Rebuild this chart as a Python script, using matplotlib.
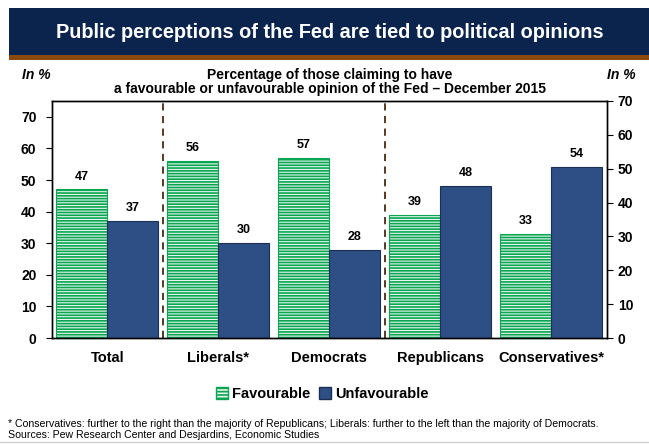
import matplotlib.pyplot as plt
import numpy as np
from matplotlib.patches import Rectangle, Patch

plt.rcParams['font.family'] = ['Liberation Sans', 'DejaVu Sans']
plt.rcParams['hatch.linewidth'] = 1.2

# données
categories = ["Total", "Liberals*", "Democrats", "Republicans", "Conservatives*"]
favourable = [47, 56, 57, 39, 33]
unfavourable = [37, 30, 28, 48, 54]
yticks = [0, 10, 20, 30, 40, 50, 60, 70]

green = "#0aa552"
blue = "#2d4f85"
navy = "#0b244d"
brown = "#8a4a0e"

fig = plt.figure(figsize=(6.49, 4.44), dpi=100)

# bandeau du titre
fig.patches.append(Rectangle((9 / 649, 1 - 55 / 444), 1, 47 / 444, transform=fig.transFigure,
                             facecolor=navy, edgecolor="none"))
fig.patches.append(Rectangle((9 / 649, 1 - 60 / 444), 1, 5 / 444, transform=fig.transFigure,
                             facecolor=brown, edgecolor="none"))
fig.text(0.508, 1 - 33 / 444, "Public perceptions of the Fed are tied to political opinions",
         color="white", fontsize=14.3, fontweight="bold", ha="center", va="center")

fig.text(0.508, 1 - 75 / 444, "Percentage of those claiming to have", fontsize=10,
         fontweight="bold", ha="center", va="center")
fig.text(0.508, 1 - 89 / 444, "a favourable or unfavourable opinion of the Fed \u2013 December 2015",
         fontsize=10, fontweight="bold", ha="center", va="center")
fig.text(22 / 649, 1 - 75 / 444, "In %", fontsize=10, fontweight="bold", style="italic", va="center")
fig.text(636 / 649, 1 - 75 / 444, "In %", fontsize=10, fontweight="bold", style="italic",
         va="center", ha="right")

# graphique
ax = fig.add_axes([51.7 / 649, 1 - 338 / 444, 555 / 649, 237 / 444])
x = np.arange(len(categories))
w = 0.46
ax.bar(x - w / 2, favourable, w, facecolor="#e4f5ea", edgecolor=green, hatch="------", linewidth=0.8)
ax.bar(x + w / 2, unfavourable, w, color=blue, edgecolor="#1b2f55", linewidth=0.8)

for i in range(len(categories)):
    ax.text(x[i] - w / 2, favourable[i] + 2.2, str(favourable[i]), ha="center", va="bottom",
            fontsize=9, fontweight="bold")
    ax.text(x[i] + w / 2, unfavourable[i] + 2.2, str(unfavourable[i]), ha="center", va="bottom",
            fontsize=9, fontweight="bold")

for xv in [0.5, 2.5]:
    ax.axvline(xv, color="#4a2a10", linestyle=(0, (4, 3)), linewidth=1.3)

ax.set_xlim(-0.5, len(categories) - 0.5)
ax.set_ylim(0, 75)
ax.set_yticks(yticks)
ax.set_xticks(x)
ax.set_xticklabels(categories, fontsize=10.5, fontweight="bold")
ax.tick_params(axis="x", length=0, pad=9)
ax.tick_params(axis="y", direction="out", length=4, labelsize=10, pad=7)
for lab in ax.get_yticklabels():
    lab.set_fontweight("bold")

ax2 = ax.twinx()
ax2.set_ylim(0, 70)
ax2.set_yticks(yticks)
ax2.tick_params(axis="y", direction="out", length=4, labelsize=10, pad=4)
for lab in ax2.get_yticklabels():
    lab.set_fontweight("bold")

for a in (ax, ax2):
    for s in a.spines.values():
        s.set_linewidth(1.0)

# légende
handles = [Patch(facecolor="#e4f5ea", edgecolor=green, hatch="-----", label="Favourable"),
           Patch(facecolor=blue, edgecolor="#1b2f55", label="Unfavourable")]
fig.legend(handles=handles, loc="center", bbox_to_anchor=(0.497, 1 - 394 / 444), ncol=2,
           frameon=False, handlelength=0.8, handleheight=0.8, handletextpad=0.3,
           columnspacing=0.6, prop={"weight": "bold", "size": 10.5})

# notes
fig.text(8 / 649, 1 - 424 / 444,
         "* Conservatives: further to the right than the majority of Republicans; Liberals: further to the left than the majority of Democrats.",
         fontsize=7.6, va="center")
fig.text(8 / 649, 1 - 435 / 444, "Sources: Pew Research Center and Desjardins, Economic Studies",
         fontsize=7.6, va="center")
fig.lines.append(plt.Line2D([0, 1], [1 - 442 / 444] * 2, transform=fig.transFigure,
                            color="#d0d0d0", linewidth=1))

fig.savefig("out.png", dpi=100)
